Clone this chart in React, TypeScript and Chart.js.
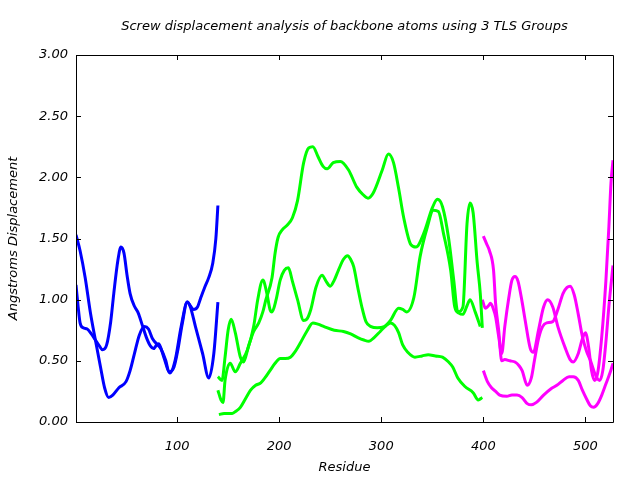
import React, { useEffect, useRef } from "react";
import { Chart, registerables } from "chart.js";

Chart.register(...registerables);

const titleText = "Screw displacement analysis of backbone atoms using 3 TLS Groups";
const xAxisTitle = "Residue";
const yAxisTitle = "Angstroms Displacement";
const xTickValues = [100, 200, 300, 400, 500];
const yTickValues = [0, 0.5, 1, 1.5, 2, 2.5, 3];

// Group 1 (blue)
const blueAX = [1, 5, 10, 15, 20, 25, 29, 33, 37, 43, 50, 54, 58, 63, 68, 72, 76, 81, 84, 89, 92, 97, 101, 105, 110, 113, 116, 120, 123, 127, 131, 135, 138, 140];
const blueAY = [1.53, 1.40, 1.18, 0.90, 0.67, 0.45, 0.28, 0.20, 0.22, 0.28, 0.33, 0.42, 0.55, 0.71, 0.78, 0.76, 0.68, 0.63, 0.60, 0.50, 0.41, 0.45, 0.60, 0.80, 0.98, 0.95, 0.92, 0.94, 1.01, 1.10, 1.18, 1.30, 1.50, 1.77];
const blueBX = [1, 3, 5, 8, 12, 16, 20, 24, 27, 31, 35, 38, 42, 45, 48, 51, 54, 58, 62, 66, 70, 74, 77, 80, 82, 87, 93, 98, 104, 110, 113, 118, 125, 131, 136, 140];
const blueBY = [1.12, 0.95, 0.81, 0.77, 0.76, 0.72, 0.67, 0.62, 0.59, 0.63, 0.82, 1.05, 1.32, 1.43, 1.38, 1.20, 1.05, 0.95, 0.89, 0.79, 0.69, 0.62, 0.60, 0.63, 0.64, 0.53, 0.40, 0.50, 0.78, 0.98, 0.94, 0.78, 0.56, 0.36, 0.56, 0.98];

// Group 2 (green)
const greenAX = [140, 144, 147, 150, 153, 157, 162, 165, 170, 175, 180, 184, 187, 193, 196, 199, 203, 208, 213, 218, 224, 229, 233, 238, 243, 247, 253, 260, 268, 276, 282, 287, 292, 301, 307, 312, 317, 322, 329, 334, 342, 350, 355, 360, 366, 371, 375, 380, 384, 387, 390, 394, 397, 399];
const greenAY = [0.37, 0.34, 0.53, 0.75, 0.84, 0.73, 0.53, 0.49, 0.62, 0.74, 0.81, 0.90, 1.00, 1.18, 1.38, 1.51, 1.57, 1.61, 1.67, 1.81, 2.12, 2.24, 2.25, 2.17, 2.09, 2.07, 2.12, 2.13, 2.06, 1.92, 1.86, 1.83, 1.87, 2.06, 2.19, 2.12, 1.91, 1.67, 1.45, 1.43, 1.55, 1.75, 1.82, 1.76, 1.50, 1.16, 0.90, 0.94, 1.62, 1.79, 1.71, 1.30, 1.05, 0.77];
const greenBX = [140, 143, 145, 147, 152, 157, 162, 169, 175, 179, 184, 188, 191, 193, 197, 201, 205, 209, 213, 218, 224, 227, 231, 236, 242, 246, 250, 254, 258, 263, 267, 270, 273, 277, 281, 285, 290, 296, 303, 309, 317, 321, 325, 332, 338, 345, 351, 356, 361, 368, 372, 376, 380, 384, 387, 392, 397];
const greenBY = [0.26, 0.18, 0.16, 0.34, 0.48, 0.41, 0.48, 0.59, 0.78, 1.00, 1.16, 1.05, 0.92, 0.90, 1.00, 1.16, 1.24, 1.26, 1.15, 1.00, 0.83, 0.84, 0.92, 1.10, 1.20, 1.15, 1.11, 1.16, 1.24, 1.33, 1.36, 1.33, 1.27, 1.10, 0.94, 0.82, 0.78, 0.77, 0.78, 0.83, 0.93, 0.92, 0.90, 1.02, 1.35, 1.59, 1.73, 1.72, 1.54, 1.24, 0.94, 0.89, 0.88, 0.95, 1.00, 0.90, 0.78];
const greenCX = [141, 146, 154, 158, 162, 167, 172, 177, 182, 186, 191, 196, 201, 206, 211, 216, 221, 227, 233, 238, 244, 254, 263, 270, 277, 283, 288, 293, 299, 305, 309, 313, 317, 321, 326, 333, 340, 346, 353, 360, 366, 370, 375, 382, 390, 395, 399];
const greenCY = [0.06, 0.07, 0.07, 0.09, 0.12, 0.19, 0.26, 0.30, 0.32, 0.36, 0.42, 0.48, 0.52, 0.52, 0.53, 0.58, 0.65, 0.74, 0.81, 0.80, 0.78, 0.75, 0.74, 0.72, 0.69, 0.67, 0.66, 0.69, 0.74, 0.79, 0.81, 0.79, 0.73, 0.63, 0.57, 0.53, 0.54, 0.55, 0.54, 0.53, 0.49, 0.45, 0.36, 0.29, 0.24, 0.18, 0.20];

// Group 3 (magenta)
const magentaAX = [400, 403, 406, 410, 412, 415, 418, 421, 426, 431, 435, 438, 443, 447, 450, 454, 458, 462, 468, 473, 478, 482, 485, 489, 493, 497, 501, 505, 509, 512, 514, 517, 520, 523, 527];
const magentaAY = [1.52, 1.46, 1.40, 1.24, 0.97, 0.75, 0.50, 0.51, 0.50, 0.49, 0.46, 0.42, 0.30, 0.36, 0.50, 0.68, 0.78, 0.81, 0.82, 0.92, 1.05, 1.10, 1.11, 1.04, 0.88, 0.70, 0.58, 0.50, 0.40, 0.35, 0.34, 0.42, 0.65, 0.95, 1.28];
const magentaBX = [399, 402, 405, 407, 410, 412, 415, 418, 421, 425, 428, 431, 434, 438, 441, 446, 449, 454, 459, 463, 468, 473, 480, 485, 488, 493, 497, 500, 503, 506, 509, 512, 516, 520, 523, 525, 527];
const magentaBY = [1.00, 0.93, 0.95, 0.97, 0.92, 0.86, 0.70, 0.56, 0.78, 1.02, 1.16, 1.19, 1.15, 0.98, 0.83, 0.60, 0.57, 0.75, 0.94, 1.00, 0.94, 0.78, 0.61, 0.51, 0.49, 0.56, 0.68, 0.73, 0.62, 0.42, 0.34, 0.40, 0.70, 1.15, 1.60, 1.95, 2.14];
const magentaCX = [400, 404, 408, 412, 416, 423, 428, 433, 438, 443, 447, 452, 459, 466, 472, 478, 484, 488, 493, 497, 501, 505, 508, 512, 516, 520, 524, 527];
const magentaCY = [0.42, 0.33, 0.28, 0.25, 0.22, 0.21, 0.22, 0.22, 0.20, 0.15, 0.14, 0.16, 0.22, 0.27, 0.30, 0.34, 0.37, 0.37, 0.34, 0.26, 0.19, 0.13, 0.12, 0.15, 0.22, 0.31, 0.40, 0.48];

const BLUE = "#0000ff";
const GREEN = "#00ff00";
const MAGENTA = "#ff00ff";
const FONT_FAMILY = "'DejaVu Sans', sans-serif";

function pts(xs: number[], ys: number[]) {
  return xs.map((x, i) => ({ x, y: ys[i] }));
}

function ds(label: string, xs: number[], ys: number[], color: string) {
  return {
    label,
    data: pts(xs, ys),
    borderColor: color,
    backgroundColor: color,
    borderWidth: 3,
    pointRadius: 0,
    cubicInterpolationMode: "monotone" as const,
    fill: false,
  };
}

const framePlugin = {
  id: "gnuplotFrame",
  afterDatasetsDraw(chart: any) {
    const { ctx, chartArea, scales } = chart;
    const { left, right, top, bottom } = chartArea;
    const tl = 5;
    ctx.save();
    ctx.strokeStyle = "#000";
    ctx.lineWidth = 1;
    ctx.beginPath();
    ctx.rect(Math.round(left) + 0.5, Math.round(top) + 0.5, Math.round(right - left), Math.round(bottom - top));
    ctx.stroke();
    ctx.beginPath();
    for (const v of xTickValues) {
      const px = Math.round(scales.x.getPixelForValue(v)) + 0.5;
      ctx.moveTo(px, bottom);
      ctx.lineTo(px, bottom - tl);
      ctx.moveTo(px, top);
      ctx.lineTo(px, top + tl);
    }
    for (const v of yTickValues) {
      const py = Math.round(scales.y.getPixelForValue(v)) + 0.5;
      ctx.moveTo(left, py);
      ctx.lineTo(left + tl, py);
      ctx.moveTo(right, py);
      ctx.lineTo(right - tl, py);
    }
    ctx.stroke();
    ctx.restore();
  },
  afterDraw(chart: any) {
    const { ctx, chartArea } = chart;
    ctx.save();
    ctx.fillStyle = "#000";
    ctx.font = "italic 13px " + FONT_FAMILY;
    ctx.textAlign = "center";
    ctx.textBaseline = "middle";
    ctx.fillText(titleText, (chartArea.left + chartArea.right) / 2, 27);
    ctx.restore();
  },
};

export default function App() {
  const canvasRef = useRef<HTMLCanvasElement | null>(null);

  useEffect(() => {
    document.body.style.margin = "0";
    const canvas = canvasRef.current;
    if (!canvas) return;
    const tickFont = { family: FONT_FAMILY, size: 13, style: "italic" as const };
    const chart = new Chart(canvas, {
      type: "line",
      data: {
        datasets: [
          ds("Group 1 a", blueAX, blueAY, BLUE),
          ds("Group 1 b", blueBX, blueBY, BLUE),
          ds("Group 2 a", greenAX, greenAY, GREEN),
          ds("Group 2 b", greenBX, greenBY, GREEN),
          ds("Group 2 c", greenCX, greenCY, GREEN),
          ds("Group 3 a", magentaAX, magentaAY, MAGENTA),
          ds("Group 3 b", magentaBX, magentaBY, MAGENTA),
          ds("Group 3 c", magentaCX, magentaCY, MAGENTA),
        ],
      },
      options: {
        animation: false,
        responsive: false,
        devicePixelRatio: 1,
        layout: { padding: { top: 55, right: 27, left: 0, bottom: 0 } },
        plugins: {
          legend: { display: false },
          title: { display: false },
          tooltip: { enabled: false },
        },
        scales: {
          x: {
            type: "linear",
            min: 1,
            max: 527,
            grid: { display: false },
            border: { display: false },
            afterBuildTicks: (scale: any) => {
              scale.ticks = xTickValues.map((v) => ({ value: v }));
            },
            afterFit: (scale: any) => {
              scale.height = 58;
            },
            ticks: {
              color: "#000",
              font: tickFont,
              padding: 9,
              maxRotation: 0,
              autoSkip: false,
              callback: (v: any) => String(v),
            },
            title: {
              display: true,
              text: xAxisTitle,
              color: "#000",
              font: tickFont,
              padding: { top: 0, bottom: 5 },
            },
          },
          y: {
            type: "linear",
            min: 0,
            max: 3,
            grid: { display: false },
            border: { display: false },
            afterBuildTicks: (scale: any) => {
              scale.ticks = yTickValues.map((v) => ({ value: v }));
            },
            afterFit: (scale: any) => {
              scale.width = 76;
            },
            ticks: {
              color: "#000",
              font: tickFont,
              padding: 0,
              callback: (v: any) => Number(v).toFixed(2),
            },
            title: {
              display: true,
              text: yAxisTitle,
              color: "#000",
              font: tickFont,
              padding: { top: 6, bottom: 0 },
            },
          },
        },
      },
      plugins: [framePlugin],
    });
    return () => {
      chart.destroy();
    };
  }, []);

  return (
    <canvas
      ref={canvasRef}
      width={640}
      height={480}
      style={{ display: "block", width: 640, height: 480 }}
    />
  );
}
